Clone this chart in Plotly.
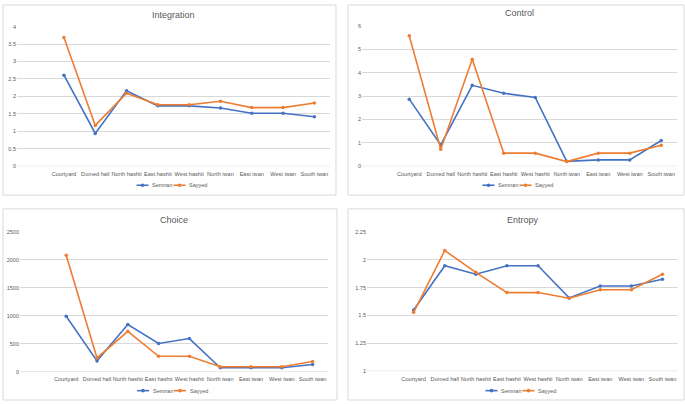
import plotly.graph_objects as go

W, H = 685, 404

categories = ["Courtyard", "Domed hall", "North hashti", "East hashti", "West hashti",
              "North iwan", "East iwan", "West iwan", "South iwan"]
series_names = ["Semnan", "Sayyed"]

integration_semnan = [2.61, 0.94, 2.16, 1.73, 1.73, 1.67, 1.52, 1.52, 1.42]
integration_sayyed = [3.69, 1.17, 2.09, 1.76, 1.76, 1.86, 1.68, 1.68, 1.81]

control_semnan = [2.87, 0.91, 3.46, 3.12, 2.94, 0.21, 0.27, 0.27, 1.10]
control_sayyed = [5.58, 0.73, 4.58, 0.56, 0.56, 0.20, 0.56, 0.56, 0.90]

choice_semnan = [992, 194, 845, 505, 593, 70, 70, 70, 129]
choice_sayyed = [2083, 246, 722, 276, 276, 88, 88, 88, 182]

entropy_semnan = [1.548, 1.946, 1.870, 1.946, 1.946, 1.657, 1.764, 1.764, 1.825]
entropy_sayyed = [1.528, 2.082, 1.887, 1.705, 1.705, 1.654, 1.731, 1.731, 1.870]

titles = ["Integration", "Control", "Choice", "Entropy"]
y_ranges = [(0, 4, 0.5), (0, 6, 1), (0, 2500, 500), (1, 2.25, 0.25)]

colors = ["#4472C4", "#ED7D31"]
grid = "#d9d9d9"
txt = "#595959"

def px_x(p):
    return p / W

def px_y(p):
    return 1 - p / H

# panel geometry in pixels: (plot left, plot right, plot top, plot bottom, box l, box r, box t, box b, title y, legend y)
panels = [
    (17, 330, 24, 165.7, 3, 336, 2, 195, 12, 185),
    (362, 677, 23.3, 165.7, 348, 684, 2, 195, 10, 185),
    (20, 328, 232.3, 374.3, 3, 337, 209, 403, 220, 393.5),
    (367, 678, 232.3, 373.7, 348, 684, 209, 403, 220, 393.5),
]

data = [
    (integration_semnan, integration_sayyed),
    (control_semnan, control_sayyed),
    (choice_semnan, choice_sayyed),
    (entropy_semnan, entropy_sayyed),
]

# legend key offsets relative to the plot centre (pixels)
legend_keys = [(-37, -25), (0, 12)]

fig = go.Figure()
layout = dict(width=W, height=H, margin=dict(l=0, r=0, t=0, b=0),
              paper_bgcolor="white", plot_bgcolor="white", showlegend=False,
              font=dict(family="Liberation Sans, Arial, sans-serif", color=txt),
              shapes=[], annotations=[])

for i, (vals, geom) in enumerate(zip(data, panels)):
    pl, pr, pt, pb, bl, br, bt, bb, ty, ly = geom
    n = "" if i == 0 else str(i + 1)
    c = (pl + pr) / 2
    for s, (name, v) in enumerate(zip(series_names, vals)):
        fig.add_trace(go.Scatter(
            x=categories, y=v, name=name, mode="lines+markers",
            line=dict(color=colors[s], width=1.6),
            marker=dict(color=colors[s], size=3.5, symbol="circle"),
            xaxis="x" + n, yaxis="y" + n,
        ))
        # legend key: short line with marker, plus label
        k0, k1 = legend_keys[s]
        layout["shapes"].append(dict(
            type="line", xref="paper", yref="paper",
            x0=px_x(c + k0), x1=px_x(c + k1), y0=px_y(ly), y1=px_y(ly),
            line=dict(color=colors[s], width=1.6)))
        layout["shapes"].append(dict(
            type="circle", xref="paper", yref="paper",
            xsizemode="pixel", ysizemode="pixel",
            xanchor=px_x(c + (k0 + k1) / 2), yanchor=px_y(ly),
            x0=-1.8, x1=1.8, y0=-1.8, y1=1.8,
            line=dict(width=0), fillcolor=colors[s]))
        layout["annotations"].append(dict(
            text=name, xref="paper", yref="paper",
            x=px_x(c + k1 + 1.5), y=px_y(ly), xanchor="left", yanchor="middle",
            showarrow=False, font=dict(size=5.5, color=txt)))
    y0, y1, dt = y_ranges[i]
    layout["xaxis" + n] = dict(
        domain=[px_x(pl), px_x(pr)], anchor="y" + n,
        type="category", categoryorder="array", categoryarray=categories,
        range=[-1.5, len(categories) - 0.5],
        showgrid=False, showline=False, zeroline=False, ticks="",
        tickangle=0, ticklabelstandoff=3,
        tickfont=dict(size=5.6, color=txt), fixedrange=True,
    )
    layout["yaxis" + n] = dict(
        domain=[px_y(pb), px_y(pt)], anchor="x" + n,
        range=[y0, y1], dtick=dt, tick0=y0,
        showgrid=True, gridcolor=grid, gridwidth=1,
        zeroline=False, showline=False, ticks="",
        tickfont=dict(size=5.5, color=txt), fixedrange=True,
    )
    layout["shapes"].append(dict(
        type="line", xref="x" + n + " domain", yref="y" + n,
        x0=0, x1=1, y0=y0, y1=y0, line=dict(color=grid, width=1), layer="below"))
    layout["shapes"].append(dict(
        type="rect", xref="paper", yref="paper",
        x0=px_x(bl), x1=px_x(br), y0=px_y(bb), y1=px_y(bt),
        line=dict(color=grid, width=1), fillcolor="rgba(0,0,0,0)", layer="below"))
    layout["annotations"].append(dict(
        text=titles[i], xref="paper", yref="paper",
        x=px_x(c), y=px_y(ty), xanchor="center", yanchor="middle",
        showarrow=False, font=dict(size=9, color=txt)))

fig.update_layout(**layout)
fig.write_html("out.html", config={"displayModeBar": False},
               post_script="document.body.style.margin='0';document.body.style.overflow='hidden';")
